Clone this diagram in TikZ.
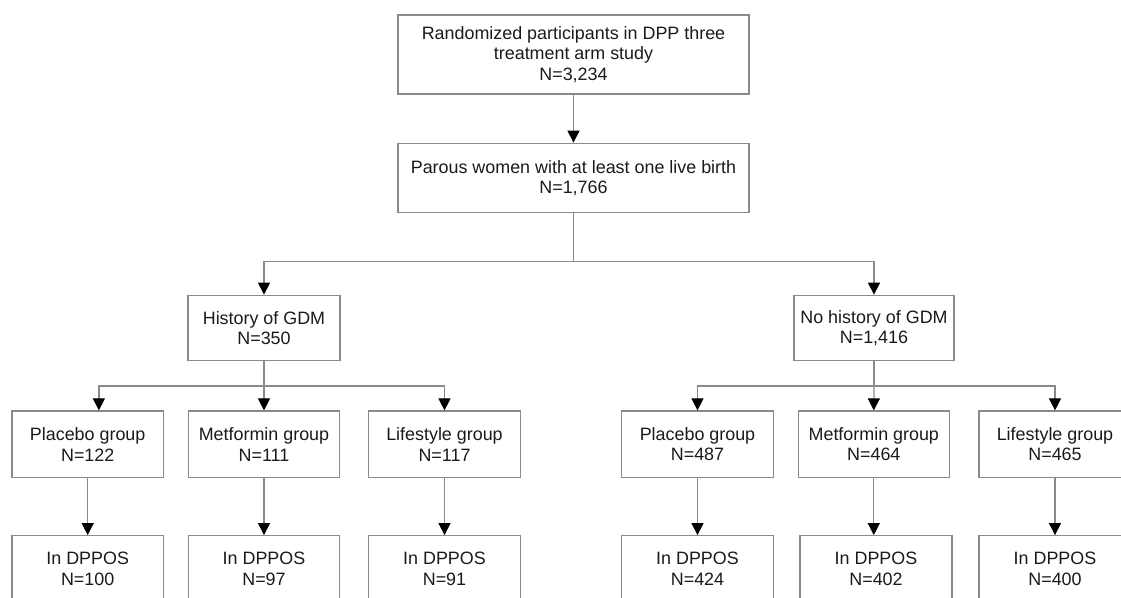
\documentclass[tikz,border=0pt]{standalone}
\usepackage{fontspec}
\setmainfont{Liberation Sans}
\usepackage{xcolor}
\usetikzlibrary{arrows.meta}
\definecolor{linegray}{HTML}{8A8A8A}
\definecolor{textblack}{HTML}{1A1A1A}

\begin{document}
\begin{tikzpicture}[x=0.5pt,y=-0.5pt,>={Triangle[length=6pt,width=6pt,color=black]}]
\tikzstyle{box}=[draw=linegray,line width=0.6pt,text=textblack,align=center,inner sep=0pt,
  minimum height=33.3pt,font=\fontsize{8.95}{10.3}\selectfont]
\tikzstyle{link}=[draw=linegray,line width=0.6pt]
\useasboundingbox (0,0) rectangle (1121,598);
\clip (0,0) rectangle (1121,598);
% top of the tree
\node[box,minimum width=175.5pt,minimum height=39.5pt] (random) at (573.5,54.5)
  {Randomized participants in DPP three\\treatment arm study\\N=3,234};
\node[box,minimum width=175.5pt,minimum height=34.8pt] (parous) at (573.5,178)
  {Parous women with at least one live birth\\N=1,766};
\node[box,minimum width=76pt,minimum height=32.8pt] (gdm) at (264,328) {History of GDM\\N=350};
\node[box,minimum width=80pt,minimum height=32.8pt] (nogdm) at (874,328) {No history of GDM\\N=1,416};
% treatment arms
\node[box,minimum width=75.7pt] (gdmplac) at (87.7,444.3) {Placebo group\\N=122};
\node[box,minimum width=75.8pt] (gdmmet) at (264,444.3) {Metformin group\\N=111};
\node[box,minimum width=76.2pt] (gdmlife) at (444.5,444.3) {Lifestyle group\\N=117};
\node[box,minimum width=75.8pt] (noplac) at (697.5,444.3) {Placebo group\\N=487};
\node[box,minimum width=75.5pt] (nomet) at (873.8,444.3) {Metformin group\\N=464};
\node[box,minimum width=76pt] (nolife) at (1055,444.3) {Lifestyle group\\N=465};
% follow-up
\node[box,minimum width=75.7pt] (gdmplacos) at (87.7,569) {In DPPOS\\N=100};
\node[box,minimum width=75.8pt] (gdmmetos) at (264,569) {In DPPOS\\N=97};
\node[box,minimum width=76.2pt] (gdmlifeos) at (444.5,569) {In DPPOS\\N=91};
\node[box,minimum width=75.8pt] (noplacos) at (697.5,569) {In DPPOS\\N=424};
\node[box,minimum width=76pt] (nometos) at (876,569) {In DPPOS\\N=402};
\node[box,minimum width=76pt] (nolifeos) at (1055,569) {In DPPOS\\N=400};
% connectors
\draw[link,->] (random) -- (parous);
\draw[link] (parous.south) -- ++(0,48) coordinate (split);
\draw[link,->] (split) -| (gdm.north);
\draw[link,->] (split) -| (nogdm.north);
\draw[link] (gdm.south) -- ++(0,24.6) coordinate (gdmsplit);
\draw[link,->] (gdmsplit) -| ([xshift=5.6pt]gdmplac.north);
\draw[link,->] (gdmsplit) -- (gdmmet.north);
\draw[link,->] (gdmsplit) -| (gdmlife.north);
\draw[link] (nogdm.south) -- ++(0,24.6) coordinate (nosplit);
\draw[link,->] (nosplit) -| (noplac.north);
\draw[link,->] (nosplit) -- (nomet.north);
\draw[link,->] (nosplit) -| (nolife.north);
\draw[link,->] (gdmplac) -- (gdmplacos);
\draw[link,->] (gdmmet) -- (gdmmetos);
\draw[link,->] (gdmlife) -- (gdmlifeos);
\draw[link,->] (noplac) -- (noplacos);
\draw[link,->] (nomet.south) -- (nomet.south |- nometos.north);
\draw[link,->] (nolife) -- (nolifeos);
\end{tikzpicture}
\end{document}
